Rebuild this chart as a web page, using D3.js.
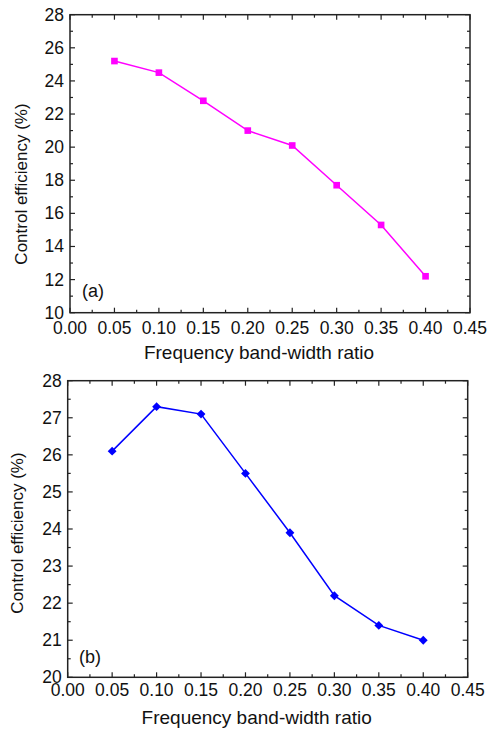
<!DOCTYPE html>
<html><head><meta charset="utf-8">
<script src="https://cdn.jsdelivr.net/npm/d3@7"></script>
<style>body{margin:0;background:#fff}svg{display:block}text{font-family:"Liberation Sans",Arial,sans-serif;fill:#111}</style>
</head><body>
<script>
const ratios = [0.05, 0.10, 0.15, 0.20, 0.25, 0.30, 0.35, 0.40];
const efficiencyA = [25.2, 24.5, 22.8, 21.0, 20.1, 17.7, 15.3, 12.2];
const efficiencyB = [26.1, 27.3, 27.1, 25.5, 23.9, 22.2, 21.4, 21.0];
const xTicks = [0, 0.05, 0.10, 0.15, 0.20, 0.25, 0.30, 0.35, 0.40, 0.45];
const yTicksA = [10, 12, 14, 16, 18, 20, 22, 24, 26, 28];
const yTicksB = [20, 21, 22, 23, 24, 25, 26, 27, 28];
const xTitle = "Frequency band-width ratio";
const yTitle = "Control efficiency (%)";

const W = 489, H = 731;
const svg = d3.select("body").append("svg").attr("width", W).attr("height", H);

function panel(cfg) {
  const g = svg.append("g");
  const x = d3.scaleLinear().domain([0, 0.45]).range([cfg.left, cfg.right]);
  const y = d3.scaleLinear().domain(cfg.yDomain).range([cfg.bottom, cfg.top]);
  const ax = "#222";
  const xMinor = d3.range(0.025, 0.45, 0.05);
  const yMinor = cfg.yMinor;
  const tickLines = [];
  xTicks.forEach(v => { tickLines.push([x(v), cfg.bottom, x(v), cfg.bottom - 5]); tickLines.push([x(v), cfg.top, x(v), cfg.top + 5]); });
  xMinor.forEach(v => { tickLines.push([x(v), cfg.bottom, x(v), cfg.bottom - 3]); tickLines.push([x(v), cfg.top, x(v), cfg.top + 3]); });
  cfg.yTicks.forEach(v => { tickLines.push([cfg.left, y(v), cfg.left + 5, y(v)]); tickLines.push([cfg.right, y(v), cfg.right - 5, y(v)]); });
  yMinor.forEach(v => { tickLines.push([cfg.left, y(v), cfg.left + 3, y(v)]); tickLines.push([cfg.right, y(v), cfg.right - 3, y(v)]); });
  g.selectAll("line.t").data(tickLines).join("line").attr("class", "t")
    .attr("x1", d => d[0]).attr("y1", d => d[1]).attr("x2", d => d[2]).attr("y2", d => d[3])
    .attr("stroke", ax).attr("stroke-width", 1.2);
  g.append("rect").attr("x", cfg.left).attr("y", cfg.top).attr("width", cfg.right - cfg.left).attr("height", cfg.bottom - cfg.top)
    .attr("fill", "none").attr("stroke", ax).attr("stroke-width", 1.5);
  g.selectAll("text.xl").data(xTicks).join("text").attr("class", "xl")
    .attr("x", d => x(d)).attr("y", cfg.bottom + cfg.xLabOff).attr("text-anchor", "middle")
    .style("font-size", "17.5px").text(d => d.toFixed(2));
  g.selectAll("text.yl").data(cfg.yTicks).join("text").attr("class", "yl")
    .attr("x", cfg.left - 6).attr("y", d => y(d) + 6).attr("text-anchor", "end")
    .style("font-size", "17.5px").text(d => d);
  g.append("text").attr("x", (cfg.left + cfg.right) / 2 - 11).attr("y", cfg.xTitleY).attr("text-anchor", "middle")
    .style("font-size", "19px").text(xTitle);
  g.append("text").attr("transform", `translate(${cfg.yTitleX},${cfg.yTitleC}) rotate(-90)`).attr("text-anchor", "middle")
    .style("font-size", "17px").text(yTitle);
  g.append("text").attr("x", cfg.tagX).attr("y", cfg.tagY).style("font-size", "18px").text(cfg.tag);
  const pts = ratios.map((r, i) => [r, cfg.values[i]]);
  g.append("path").datum(pts).attr("fill", "none").attr("stroke", cfg.color).attr("stroke-width", 1.5)
    .attr("d", d3.line().x(d => x(d[0])).y(d => y(d[1])));
  g.selectAll("path.m").data(pts).join("path").attr("class", "m")
    .attr("transform", d => `translate(${x(d[0])},${y(d[1])})`)
    .attr("d", d3.symbol().type(cfg.symbol).size(cfg.symSize)).attr("fill", cfg.color);
}

panel({ left: 70, right: 470, top: 14.7, bottom: 312.7, yDomain: [10, 28], yTicks: yTicksA,
  yMinor: d3.range(11, 28, 2), values: efficiencyA, color: "#ff00ff", symbol: d3.symbolSquare, symSize: 44,
  xLabOff: 21, xTitleY: 359, yTitleX: 27, yTitleC: 184, tag: "(a)", tagX: 82, tagY: 297 });
panel({ left: 67.7, right: 467.7, top: 380.7, bottom: 677.3, yDomain: [20, 28], yTicks: yTicksB,
  yMinor: d3.range(20.5, 28, 1), values: efficiencyB, color: "#0000ff", symbol: d3.symbolDiamond2, symSize: 50,
  xLabOff: 19, xTitleY: 724, yTitleX: 23, yTitleC: 533, tag: "(b)", tagX: 79, tagY: 663 });
</script>
</body></html>
